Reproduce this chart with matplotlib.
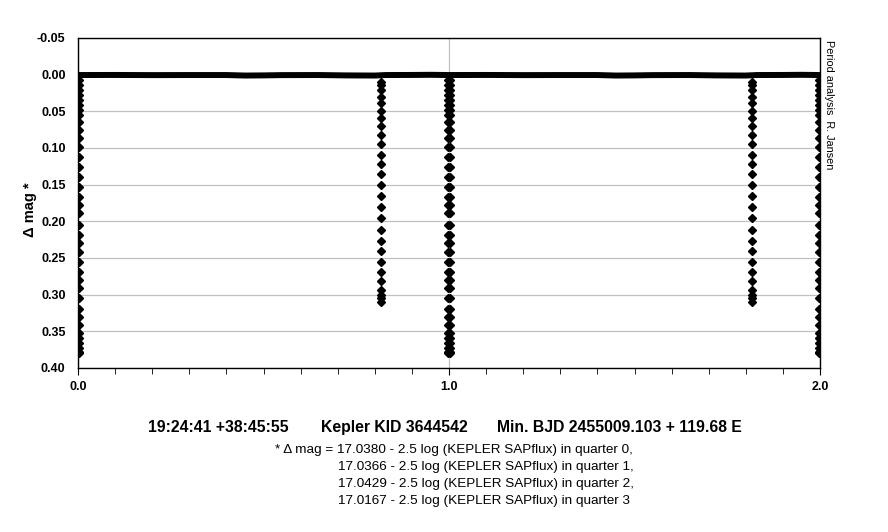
import matplotlib
matplotlib.use("Agg")
import matplotlib.pyplot as plt
from matplotlib.ticker import MultipleLocator, FixedLocator
import numpy as np

plt.rcParams['font.family'] = ['Liberation Sans', 'DejaVu Sans']

# out-of-eclipse light curve (one cycle, phase 0..1)
base_phase = [0.00, 0.10, 0.20, 0.30, 0.40, 0.45, 0.50, 0.55, 0.65, 0.72, 0.80,
              0.83, 0.90, 0.95, 1.00]
base_mag = [0.0005, 0.0004, 0.0006, 0.0005, 0.0005, 0.0012, 0.0010, 0.0006,
            0.0005, 0.0010, 0.0012, 0.0005, 0.0004, 0.0002, 0.0005]

# primary eclipse depths (seen on ingress and egress)
pri_mag = [0.007, 0.014, 0.021, 0.028, 0.035, 0.041, 0.048, 0.055, 0.065, 0.076,
           0.086, 0.099, 0.112, 0.126, 0.140, 0.153, 0.167, 0.178, 0.189, 0.205,
           0.219, 0.230, 0.242, 0.256, 0.269, 0.280, 0.291, 0.305, 0.319, 0.331,
           0.341, 0.352, 0.359, 0.366, 0.373, 0.378, 0.380]
pri_ingress = 0.9985
pri_egress = 0.0020

# secondary eclipse depths
sec_mag = [0.010, 0.014, 0.021, 0.030, 0.039, 0.049, 0.059, 0.070, 0.082, 0.095,
           0.109, 0.122, 0.136, 0.151, 0.166, 0.180, 0.196, 0.212, 0.227, 0.241,
           0.255, 0.269, 0.281, 0.293, 0.301, 0.305, 0.310]
sec_phase = 0.8167

title_parts = ["19:24:41 +38:45:55", "Kepler KID 3644542", "Min. BJD 2455009.103 + 119.68 E"]
notes = ["* \u0394 mag = 17.0380 - 2.5 log (KEPLER SAPflux) in quarter 0,",
         "17.0366 - 2.5 log (KEPLER SAPflux) in quarter 1,",
         "17.0429 - 2.5 log (KEPLER SAPflux) in quarter 2,",
         "17.0167 - 2.5 log (KEPLER SAPflux) in quarter 3"]

W, H = 888, 532
fig = plt.figure(figsize=(W / 100, H / 100), dpi=100)
ax = fig.add_axes([78 / W, 1 - 368 / H, 742 / W, 330 / H])

# two cycles
bp = np.array(base_phase)
ax.plot(np.concatenate([bp, bp + 1]), base_mag + base_mag, color='black',
        lw=4.3, solid_capstyle='butt', zorder=3)

pm = np.array(pri_mag)
for c in (0, 1):
    ax.plot(np.full(pm.size, pri_ingress + c), pm, 'D', color='black', ms=4.4, zorder=4)
    ax.plot(np.full(pm.size, pri_egress + c), pm, 'D', color='black', ms=4.4, zorder=4)
    ax.plot(np.full(len(sec_mag), sec_phase + c), sec_mag, 'D', color='black',
            ms=4.4, zorder=4)

ax.set_xlim(0, 2)
ax.set_ylim(0.40, -0.05)

ax.yaxis.set_major_locator(MultipleLocator(0.05))
ax.yaxis.set_major_formatter(plt.FuncFormatter(lambda v, p: f"{v:.2f}"))
ax.xaxis.set_major_locator(FixedLocator([0, 1, 2]))
ax.xaxis.set_minor_locator(MultipleLocator(0.1))
ax.xaxis.set_major_formatter(plt.FuncFormatter(lambda v, p: f"{v:.1f}"))

ax.grid(True, which='major', color='#c0c0c0', lw=0.9, zorder=0)
ax.set_axisbelow(True)
ax.tick_params(axis='y', length=0, pad=9, labelsize=9)
ax.tick_params(axis='x', which='major', length=5, direction='out', pad=4, labelsize=9)
ax.tick_params(axis='x', which='minor', length=4, direction='out')
for lab in ax.get_xticklabels() + ax.get_yticklabels():
    lab.set_fontweight('bold')
for s in ax.spines.values():
    s.set_linewidth(1.0)
    s.set_zorder(5)

fig.text(30 / W, 1 - 210 / H, "\u0394 mag *", rotation=90, ha='center', va='center',
         fontsize=10.5, fontweight='bold')
fig.text(829 / W, 1 - 40 / H, "Period analysis  R. Jansen", rotation=-90,
         ha='center', va='top', fontsize=7.8)

for x0, s in zip([148, 321, 497], title_parts):
    fig.text(x0 / W, 1 - 432 / H, s, ha='left', va='baseline', fontsize=11.3,
             fontweight='bold')

for i, s in enumerate(notes):
    x0 = 275 if i == 0 else 338
    fig.text(x0 / W, 1 - (453 + 17 * i) / H, s, ha='left', va='baseline', fontsize=9.7)

fig.savefig("out.png", dpi=100)
